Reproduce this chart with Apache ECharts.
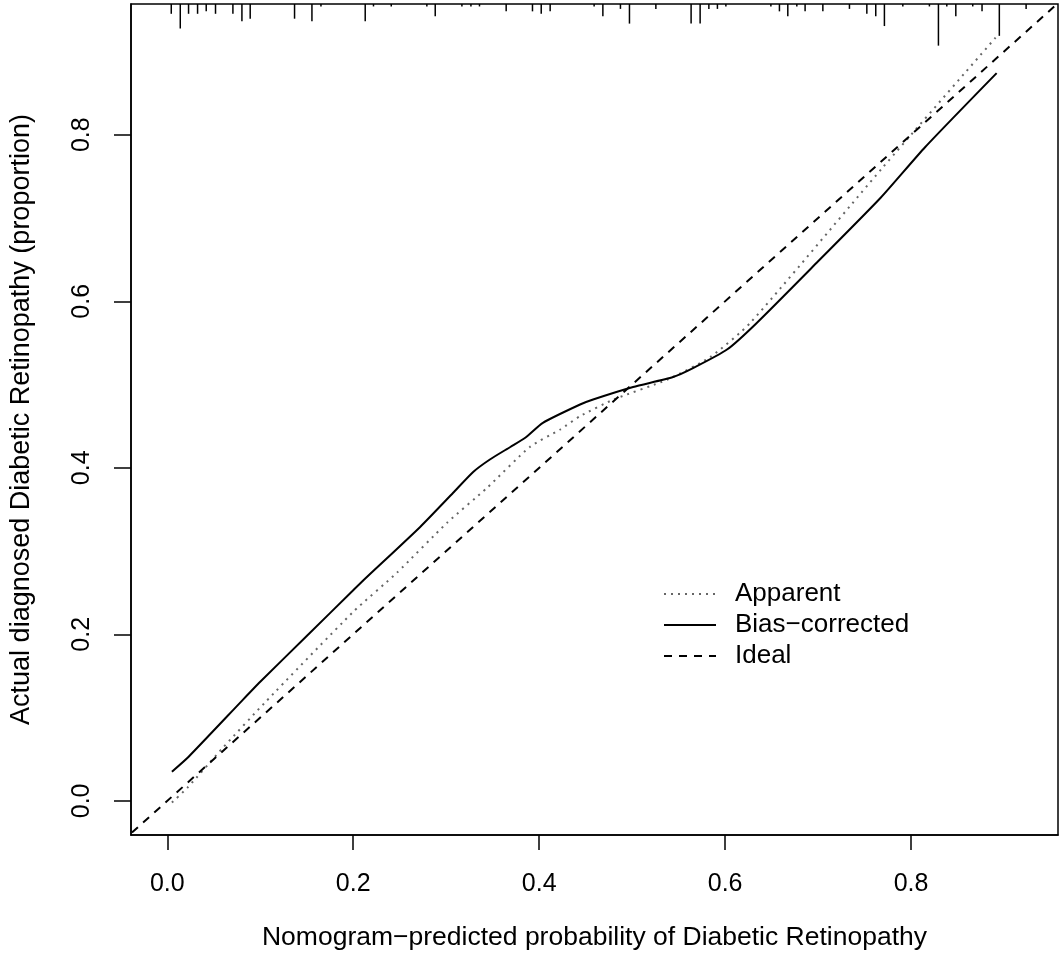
<!DOCTYPE html>
<html>
<head>
<meta charset="utf-8">
<script src="https://cdn.jsdelivr.net/npm/echarts@6/dist/echarts.min.js"></script>
<style>
html,body{margin:0;padding:0;background:#fff;}
#chart{width:1063px;height:973px;}
</style>
</head>
<body>
<div id="chart"></div>
<script>
// ---- data ----
const tickValues = [0, 0.2, 0.4, 0.6, 0.8];

const apparentX = [0.005, 0.0215, 0.06, 0.105, 0.2, 0.247, 0.301, 0.344, 0.39, 0.4226, 0.444, 0.48, 0.538, 0.584, 0.627, 0.769, 0.892];
const apparentY = [-0.002, 0.0156, 0.064, 0.118, 0.227, 0.274, 0.334, 0.376, 0.425, 0.446, 0.462, 0.482, 0.506, 0.533, 0.574, 0.76, 0.918];

const biasX = [0.005, 0.023, 0.081, 0.1, 0.15, 0.2, 0.211, 0.272, 0.3075, 0.329, 0.347, 0.369, 0.385, 0.404, 0.444, 0.458, 0.501, 0.544, 0.566, 0.602, 0.634, 0.7, 0.767, 0.815, 0.892];
const biasY = [0.035, 0.053, 0.121, 0.143, 0.198, 0.253, 0.265, 0.329, 0.37, 0.395, 0.41, 0.425, 0.436, 0.454, 0.476, 0.482, 0.497, 0.509, 0.52, 0.542, 0.574, 0.648, 0.724, 0.785, 0.874];

const idealX = [-0.05, 0.97];
const idealY = [-0.05, 0.97];

// rug of predicted probabilities (position, frequency)
const rugX = [0.0043, 0.014, 0.0229, 0.0326, 0.0419, 0.0519, 0.0706, 0.0803, 0.0892, 0.1369, 0.1556, 0.1653, 0.2129, 0.2218, 0.2409, 0.2792, 0.2882, 0.3169, 0.3266, 0.3358, 0.3645, 0.3928, 0.4022, 0.4118, 0.4591, 0.4685, 0.4874, 0.4971, 0.5255, 0.5634, 0.5731, 0.5825, 0.5917, 0.6008, 0.6492, 0.6584, 0.6674, 0.6771, 0.686, 0.7051, 0.7337, 0.7524, 0.762, 0.7713, 0.7911, 0.8197, 0.8294, 0.8384, 0.8481, 0.8663, 0.8763, 0.8949, 0.9237];
const rugCount = [4, 10, 4, 4, 3, 4, 4, 7, 6, 6, 7, 1, 7, 1, 1, 1, 5, 1, 1, 1, 3, 3, 4, 3, 1, 5, 2, 8, 2, 8, 8, 2, 2, 1, 1, 3, 5, 1, 3, 3, 2, 4, 5, 9, 1, 1, 17, 1, 5, 1, 3, 13, 2];

const legendNames = ['Apparent', 'Bias\u2212corrected', 'Ideal'];

const xMin = -0.039, xMax = 0.958;
const yMin = -0.041, yMax = 0.957;

// ---- chart ----
const zip = (a, b) => a.map((v, i) => [v, b[i]]);
const FONT = "'Liberation Sans', Arial, sans-serif";
const chart = echarts.init(document.getElementById('chart'));

chart.setOption({
  backgroundColor: '#fff',
  animation: false,
  grid: { left: 131, right: 5, top: 4, bottom: 138, show: true, borderColor: '#000', borderWidth: 1.5 },
  xAxis: {
    type: 'value', min: xMin, max: xMax,
    name: 'Nomogram\u2212predicted probability of Diabetic Retinopathy',
    nameLocation: 'middle', nameGap: 89,
    nameTextStyle: { fontSize: 26.5, color: '#000', fontFamily: FONT },
    axisLine: { show: true, onZero: false, lineStyle: { color: '#000', width: 1.5 } },
    axisTick: { show: true, customValues: tickValues, length: 15, lineStyle: { color: '#000', width: 1.5 } },
    axisLabel: { customValues: tickValues, formatter: v => v.toFixed(1), margin: 37, fontSize: 25, color: '#000', fontFamily: FONT },
    splitLine: { show: false }
  },
  yAxis: {
    type: 'value', min: yMin, max: yMax,
    name: 'Actual diagnosed Diabetic Retinopathy (proportion)',
    nameLocation: 'middle', nameGap: 96,
    nameTextStyle: { fontSize: 27, color: '#000', fontFamily: FONT },
    axisLine: { show: true, onZero: false, lineStyle: { color: '#000', width: 1.5 } },
    axisTick: { show: true, customValues: tickValues, length: 17, lineStyle: { color: '#000', width: 1.5 } },
    axisLabel: { customValues: tickValues, formatter: v => v.toFixed(1), rotate: 90, margin: 36, fontSize: 25, color: '#000', fontFamily: FONT },
    splitLine: { show: false }
  },
  legend: {
    data: legendNames,
    orient: 'vertical', left: 658, top: 576,
    itemWidth: 52, itemHeight: 14, itemGap: 5,
    itemStyle: { opacity: 0 },
    textStyle: { fontSize: 26, color: '#000', fontFamily: FONT, padding: [0, 0, 0, 14] }
  },
  series: [
    {
      name: legendNames[0], type: 'line', data: zip(apparentX, apparentY),
      symbol: 'none', smooth: 0.2,
      lineStyle: { color: '#666', width: 2, type: [2, 5] },
      itemStyle: { color: '#666' }
    },
    {
      name: legendNames[1], type: 'line', data: zip(biasX, biasY),
      symbol: 'none', smooth: 0.2,
      lineStyle: { color: '#000', width: 2, type: 'solid' },
      itemStyle: { color: '#000' }
    },
    {
      name: legendNames[2], type: 'line', data: zip(idealX, idealY),
      symbol: 'none', clip: true,
      lineStyle: { color: '#000', width: 2, type: [8, 7] },
      itemStyle: { color: '#000' }
    },
    {
      name: 'rug', type: 'custom', data: zip(rugX, rugCount),
      clip: true,
      renderItem: function (params, api) {
        const x = api.value(0), c = api.value(1);
        const top = api.coord([x, yMax]);
        return {
          type: 'line',
          shape: { x1: top[0], y1: top[1], x2: top[0], y2: top[1] + c * 2.45 },
          style: { stroke: '#000', lineWidth: 1.5 }
        };
      }
    }
  ]
});
</script>
</body>
</html>
